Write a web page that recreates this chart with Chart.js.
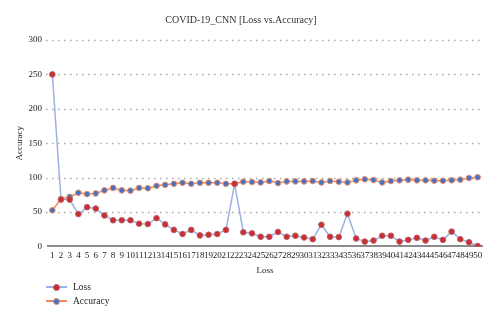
<!DOCTYPE html>
<html>
<head>
<meta charset="utf-8">
<script src="https://cdn.jsdelivr.net/npm/chart.js@4"></script>
<style>
  body { margin: 0; background: #fff; }
  .wrap { position: relative; width: 500px; height: 323px; }
  .legend { position: absolute; left: 46px; top: 280px; font-family: "Liberation Serif", serif; font-size: 9.5px; color: #222; }
  .legend .item { display: flex; align-items: center; height: 14px; }
  .legend .mark { position: relative; width: 21px; height: 10px; margin-right: 6px; }
  .legend .mark .ln { position: absolute; left: 0; right: 0; top: 4px; height: 2px; }
  .legend .mark .dot { position: absolute; left: 7px; top: 2px; width: 5px; height: 5px; border-radius: 50%; border: 1px solid; }
</style>
</head>
<body>
<div class="wrap">
  <canvas id="chart" width="500" height="323"></canvas>
  <div class="legend" id="legend"></div>
</div>
<script>
// epochs on the x axis
const epochs = ['1','2','3','4','5','6','7','8','9','10','11','12','13','14','15','16','17','18','19','20',
  '21','22','23','24','25','26','27','28','29','30','31','32','33','34','35','36','37','38','39','40',
  '41','42','43','44','45','46','47','48','49','50'];

const lossValues = [250, 68, 68, 47, 57, 55, 45, 38, 38, 38, 33, 32.5, 41, 32, 24, 18, 24, 16, 17, 18,
  24, 91, 20.5, 19, 14, 14, 21, 14, 15.5, 13, 10.5, 31.5, 14, 13.5, 47.5, 11.5, 7, 8.5, 15.5, 15.5,
  7, 9.5, 12.5, 8.5, 14, 9.5, 21.5, 10.5, 6, 0.5];

const accuracyValues = [52.5, 69, 72, 78, 76, 77, 81.5, 85, 81.5, 81, 85, 84.5, 88, 89.5, 91, 92.5, 91, 92.5, 92.5, 92.5,
  91, 91, 94, 93.5, 93, 95, 92, 94.5, 94.5, 94.5, 95, 93, 95, 94, 93, 96, 97.5, 96.5, 93, 95,
  96, 97, 96, 96, 95.5, 95.5, 96, 97, 99.5, 100.5];

const yTicks = [0, 50, 100, 150, 200, 250, 300];

const serif = '"Liberation Serif", "DejaVu Serif", serif';

const series = [
    { label: 'Loss', data: lossValues, line: '#9cb2e2', dot: '#c9302c', dotBorder: '#b85a6a' },
    { label: 'Accuracy', data: accuracyValues, line: '#ec8a5f', dot: '#4472c4', dotBorder: '#e98a60' }
];

// dotted gridlines (drawn here so the dash pattern is guaranteed)
const dottedGrid = {
    id: 'dottedGrid',
    beforeDatasetsDraw(c) {
        const y = c.scales.y, area = c.chartArea, ctx = c.ctx;
        ctx.save();
        ctx.strokeStyle = '#a6a6a6';
        ctx.lineWidth = 1.3;
        ctx.setLineDash([1.5, 4.5]);
        y.ticks.forEach(t => {
            if (t.value === 0) return;
            const py = Math.round(y.getPixelForValue(t.value)) + 0.5;
            ctx.beginPath();
            ctx.moveTo(area.left - 2, py);
            ctx.lineTo(area.right, py);
            ctx.stroke();
        });
        ctx.restore();
    }
};

const chart = new Chart(document.getElementById('chart').getContext('2d'), {
    type: 'line',
    data: {
        labels: epochs,
        datasets: series.map(s => ({
            label: s.label,
            data: s.data,
            borderColor: s.line,
            borderWidth: 1.5,
            pointBackgroundColor: s.dot,
            pointBorderColor: s.dotBorder,
            pointBorderWidth: 1,
            pointRadius: 2.8,
            tension: 0
        }))
    },
    plugins: [dottedGrid],
    options: {
        responsive: false,
        animation: false,
        layout: { padding: { left: 0, right: 18, top: 0, bottom: 47 } },
        plugins: {
            legend: { display: false },
            tooltip: { enabled: false },
            title: {
                display: true,
                text: 'COVID-19_CNN [Loss vs.Accuracy]',
                color: '#333',
                font: { family: serif, size: 10, weight: 'normal' },
                padding: { top: 14, bottom: 14 }
            }
        },
        scales: {
            x: {
                offset: true,
                grid: { display: false, drawTicks: false },
                border: { display: true, color: '#8c8c8c', width: 2 },
                ticks: {
                    autoSkip: false, maxRotation: 0, minRotation: 0, padding: 4,
                    color: '#222', font: { family: serif, size: 9 }
                },
                title: {
                    display: true, text: 'Loss', color: '#222',
                    font: { family: serif, size: 9 }, padding: { top: 0, bottom: 0 }
                }
            },
            y: {
                min: 0,
                max: 300,
                afterFit: scale => { scale.width = 48; },
                afterBuildTicks: scale => { scale.ticks = yTicks.map(v => ({ value: v })); },
                grid: { display: false, drawTicks: false },
                border: { display: false },
                ticks: { padding: 6, color: '#222', font: { family: serif, size: 9 } },
                title: {
                    display: true, text: 'Accuracy', color: '#222',
                    font: { family: serif, size: 9 }, padding: { top: 14, bottom: 0 }
                }
            }
        }
    }
});

// stacked legend under the plot, like the original
const legendBox = document.getElementById('legend');
series.forEach(s => {
    const item = document.createElement('div');
    item.className = 'item';
    item.innerHTML = '<span class="mark"><span class="ln" style="background:' + s.line + '"></span>' +
        '<span class="dot" style="background:' + s.dot + ';border-color:' + s.dotBorder + '"></span></span>' +
        '<span>' + s.label + '</span>';
    legendBox.appendChild(item);
});
</script>
</body>
</html>
